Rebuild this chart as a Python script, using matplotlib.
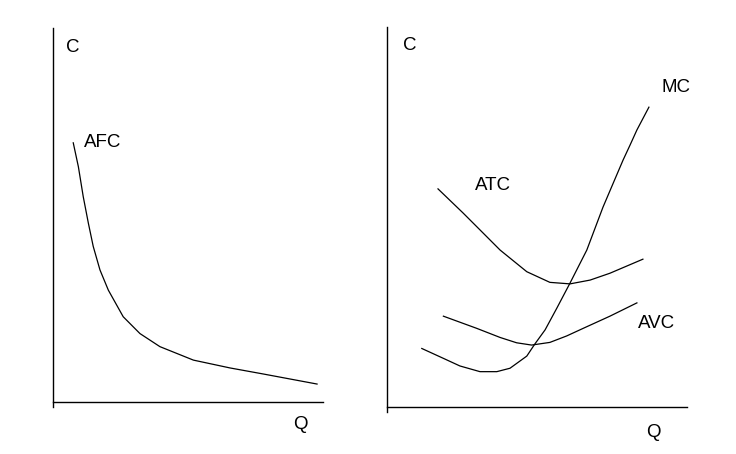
import matplotlib
matplotlib.use("Agg")
import matplotlib.pyplot as plt

plt.rcParams['font.family'] = ['Liberation Sans', 'DejaVu Sans']

# left panel: average fixed cost
afc_q = [0.75, 0.94, 1.12, 1.31, 1.49, 1.74, 2.05, 2.6, 3.22, 3.96, 5.2, 6.56, 7.78, 9.78]
afc_c = [6.93, 6.29, 5.49, 4.78, 4.16, 3.53, 2.99, 2.28, 1.83, 1.48, 1.12, 0.91, 0.75, 0.48]

# right panel: marginal, average total and average variable cost
mc_q = [1.16, 1.88, 2.43, 3.1, 3.66, 4.1, 4.66, 4.93, 5.27, 5.66, 6.1, 6.66,
        7.2, 7.54, 7.87, 8.1, 8.33, 8.73]
mc_c = [1.54, 1.28, 1.08, 0.93, 0.93, 1.02, 1.34, 1.66, 2.03, 2.6, 3.26, 4.13,
        5.26, 5.89, 6.5, 6.89, 7.29, 7.89]
atc_q = [1.7, 2.53, 3.1, 3.77, 4.66, 5.43, 6.1, 6.77, 7.43, 8.53]
atc_c = [5.74, 5.11, 4.66, 4.13, 3.56, 3.28, 3.24, 3.34, 3.52, 3.89]
avc_q = [1.88, 2.99, 3.77, 4.32, 4.82, 5.43, 5.99, 6.54, 7.43, 8.33]
avc_c = [2.39, 2.07, 1.83, 1.69, 1.63, 1.70, 1.87, 2.07, 2.39, 2.74]

W, H = 736, 454
fig = plt.figure(figsize=(W / 100, H / 100), dpi=100)


def make_axes(x0, x1, y_axis, y_top, y_bot):
    # pixel box -> figure fraction; y axis line reaches a bit below the Q axis
    ax = fig.add_axes([x0 / W, (H - y_bot) / H, (x1 - x0) / W, (y_bot - y_top) / H])
    ax.set_xlim(0, 10)
    ax.set_ylim(-(y_bot - y_axis) / ((y_axis - y_top) / 10), 10)
    for s in ['top', 'right']:
        ax.spines[s].set_visible(False)
    ax.spines['bottom'].set_position(('data', 0))
    ax.spines['left'].set_linewidth(1)
    ax.spines['bottom'].set_linewidth(1)
    ax.set_xticks([])
    ax.set_yticks([])
    ax.patch.set_visible(False)
    return ax


fs = 13.5

ax1 = make_axes(53, 323, 402, 28, 407)
ax1.plot(afc_q, afc_c, color='black', lw=0.9)
ax1.text(0.74, 9.47, 'C', fontsize=fs, ha='center', va='center')
ax1.text(1.85, 6.93, 'AFC', fontsize=fs, ha='center', va='center')
ax1.text(9.15, -0.61, 'Q', fontsize=fs, ha='center', va='center', clip_on=False)

ax2 = make_axes(387, 687, 407, 27, 412)
ax2.plot(mc_q, mc_c, color='black', lw=0.9)
ax2.plot(atc_q, atc_c, color='black', lw=0.9)
ax2.plot(avc_q, avc_c, color='black', lw=0.9)
ax2.text(0.77, 9.5, 'C', fontsize=fs, ha='center', va='center')
ax2.text(9.63, 8.42, 'MC', fontsize=fs, ha='center', va='center')
ax2.text(3.53, 5.84, 'ATC', fontsize=fs, ha='center', va='center')
ax2.text(9.0, 2.21, 'AVC', fontsize=fs, ha='center', va='center')
ax2.text(8.87, -0.66, 'Q', fontsize=fs, ha='center', va='center', clip_on=False)

fig.savefig('out.png', dpi=100)
